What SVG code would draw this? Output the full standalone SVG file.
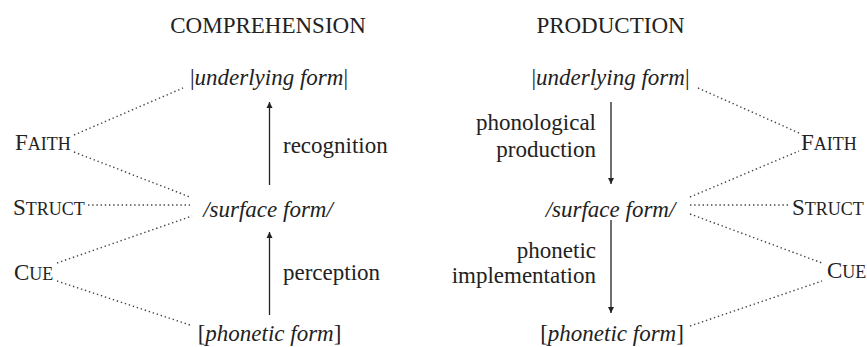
<svg xmlns="http://www.w3.org/2000/svg" width="867" height="347" viewBox="0 0 867 347">
<style>
text{font-family:"Liberation Serif","Times New Roman",serif;font-size:23px;fill:#222}
.it{font-style:italic}
.up{font-style:normal}
.sc{font-size:18px}
.mid{text-anchor:middle}
.end{text-anchor:end}
.dot{stroke:#444;stroke-width:1.4;stroke-dasharray:1.4 2.8;fill:none}
.arr{stroke:#222;stroke-width:1.3;fill:none}
</style>
<defs>
<marker id="ah" viewBox="0 0 10 10" refX="10" refY="5" markerWidth="6" markerHeight="8" markerUnits="userSpaceOnUse" orient="auto">
<path d="M0,0 L10,5 L0,10 Z" fill="#222"/>
</marker>
</defs>
<rect width="867" height="347" fill="#fff"/>
<g id="headings">
<text x="268" y="33" class="mid">COMPREHENSION</text>
<text x="610.5" y="33" class="mid">PRODUCTION</text>
</g>
<g id="connectors">
<line class="arr" x1="269.5" y1="185" x2="269.5" y2="102" marker-end="url(#ah)"/>
<line class="arr" x1="269.5" y1="315" x2="269.5" y2="232" marker-end="url(#ah)"/>
<line class="arr" x1="611" y1="102" x2="611" y2="184" marker-end="url(#ah)"/>
<line class="arr" x1="611" y1="220" x2="611" y2="313" marker-end="url(#ah)"/>
<line class="dot" x1="74" y1="135" x2="183" y2="88"/>
<line class="dot" x1="74" y1="152" x2="190" y2="197"/>
<line class="dot" x1="88" y1="205" x2="190" y2="205"/>
<line class="dot" x1="57" y1="263" x2="192" y2="216"/>
<line class="dot" x1="57" y1="281" x2="190" y2="325"/>
<line class="dot" x1="698" y1="88" x2="799" y2="133"/>
<line class="dot" x1="690" y1="197" x2="799" y2="151"/>
<line class="dot" x1="690" y1="205" x2="790" y2="205"/>
<line class="dot" x1="690" y1="214" x2="822" y2="263"/>
<line class="dot" x1="690" y1="326" x2="822" y2="281"/>
</g>
<g id="comp-underlying"><text x="269" y="85" class="mid it"><tspan class="up">|</tspan>underlying form<tspan class="up">|</tspan></text></g>
<g id="comp-surface"><text x="268" y="217" class="mid it">/surface form/</text></g>
<g id="comp-phonetic"><text x="269.5" y="341" class="mid it"><tspan class="up">[</tspan>phonetic form<tspan class="up">]</tspan></text></g>
<g id="comp-labels">
<text x="283" y="153">recognition</text>
<text x="283" y="280">perception</text>
</g>
<g id="comp-faith"><text x="15" y="150">F<tspan class="sc">AITH</tspan></text></g>
<g id="comp-struct"><text x="13" y="215">S<tspan class="sc">TRUCT</tspan></text></g>
<g id="comp-cue"><text x="14" y="280">C<tspan class="sc">UE</tspan></text></g>
<g id="prod-underlying"><text x="610.5" y="85" class="mid it"><tspan class="up">|</tspan>underlying form<tspan class="up">|</tspan></text></g>
<g id="prod-surface"><text x="610.5" y="217" class="mid it">/surface form/</text></g>
<g id="prod-phonetic"><text x="612" y="341" class="mid it"><tspan class="up">[</tspan>phonetic form<tspan class="up">]</tspan></text></g>
<g id="prod-labels">
<text x="596" y="130" class="end">phonological</text>
<text x="596" y="157" class="end">production</text>
<text x="596" y="258" class="end">phonetic</text>
<text x="596" y="283" class="end">implementation</text>
</g>
<g id="prod-faith"><text x="801" y="150">F<tspan class="sc">AITH</tspan></text></g>
<g id="prod-struct"><text x="792" y="215">S<tspan class="sc">TRUCT</tspan></text></g>
<g id="prod-cue"><text x="827" y="278">C<tspan class="sc">UE</tspan></text></g>
</svg>
